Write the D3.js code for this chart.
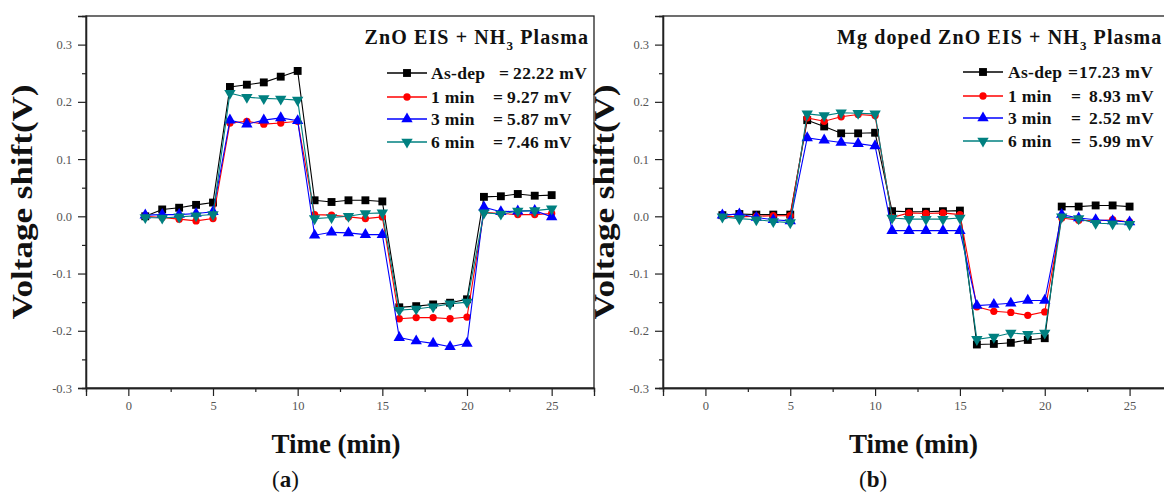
<!DOCTYPE html>
<html><head><meta charset="utf-8">
<script src="https://cdn.jsdelivr.net/npm/d3@7"></script>
<style>body{margin:0;background:#fff}svg{display:block}</style>
</head><body>
<svg id="c" width="1164" height="493"></svg>
<script>
// ---------- data ----------
const time = [1,2,3,4,5,6,7,8,9,10,11,12,13,14,15,16,17,18,19,20,21,22,23,24,25];

const aAsDep = [0.000,0.012,0.015,0.020,0.024,0.226,0.230,0.234,0.244,0.254,0.028,0.025,0.028,0.028,0.026,-0.159,-0.157,-0.154,-0.151,-0.145,0.034,0.035,0.039,0.036,0.037];
const a1min  = [0.000,-0.002,-0.005,-0.008,-0.004,0.163,0.166,0.161,0.163,0.166,0.003,0.002,-0.001,-0.004,-0.001,-0.179,-0.177,-0.177,-0.179,-0.176,0.007,0.005,0.003,0.003,0.005];
const a3min  = [0.002,0.003,0.003,0.005,0.008,0.168,0.161,0.168,0.172,0.167,-0.033,-0.028,-0.029,-0.032,-0.032,-0.212,-0.218,-0.222,-0.228,-0.222,0.016,0.008,0.009,0.010,-0.001];
const a6min  = [-0.002,-0.003,-0.001,0.001,0.003,0.215,0.208,0.206,0.205,0.203,-0.004,-0.002,0.000,0.005,0.006,-0.164,-0.162,-0.158,-0.153,-0.150,0.006,0.004,0.009,0.010,0.013];

const bAsDep = [0.002,0.004,0.003,0.003,0.003,0.168,0.157,0.145,0.145,0.146,0.009,0.008,0.008,0.009,0.010,-0.224,-0.223,-0.221,-0.216,-0.213,0.017,0.017,0.019,0.019,0.017];
const b1min  = [0.000,-0.001,0.000,0.001,0.001,0.172,0.166,0.174,0.178,0.176,-0.002,0.006,0.005,0.006,0.003,-0.158,-0.166,-0.168,-0.173,-0.167,-0.003,-0.007,-0.008,-0.006,-0.010];
const b3min  = [0.002,0.004,-0.002,-0.006,-0.008,0.137,0.133,0.129,0.127,0.123,-0.025,-0.025,-0.025,-0.025,-0.025,-0.156,-0.154,-0.152,-0.147,-0.147,0.003,-0.003,-0.006,-0.008,-0.010];
const b6min  = [-0.001,-0.004,-0.006,-0.009,-0.011,0.179,0.176,0.181,0.180,0.179,-0.003,-0.005,-0.005,-0.005,-0.003,-0.215,-0.211,-0.204,-0.206,-0.204,-0.001,-0.004,-0.012,-0.013,-0.014];

const seriesNames = ["As-dep","1 min","3 min","6 min"];
const aValueText = ["22.22 mV","9.27 mV","5.87 mV","7.46 mV"];
const bValueText = ["17.23 mV","8.93 mV","2.52 mV","5.99 mV"];
const colors = ["#000000","#ff0000","#0000ff","#008080"];
const symbols = ["square","circle","up","down"];

const xTicks = [0,5,10,15,20,25];
const xMinorTicks = [2.5,7.5,12.5,17.5,22.5];
const yTicks = [-0.3,-0.2,-0.1,0.0,0.1,0.2,0.3];
const yMinorTicks = [-0.25,-0.15,-0.05,0.05,0.15,0.25];
const xDomain = [-2.5,27.5];
const yDomain = [-0.3,0.35];

const yTitle = "Voltage shift(V)";
const xTitle = "Time (min)";

// ---------- drawing ----------
const FONT = "'Liberation Serif','Times New Roman',serif";
const svg = d3.select("#c");

function symPath(kind){
  if(kind==="square") return d3.symbol(d3.symbolSquare, 62)();
  if(kind==="circle") return d3.symbol(d3.symbolCircle, 42)();
  return d3.symbol(d3.symbolTriangle, 56)();
}

function drawPanel(cfg){
  const g = svg.append("g");
  const x = d3.scaleLinear().domain(xDomain).range([cfg.left, cfg.right]);
  const y = d3.scaleLinear().domain(yDomain).range([cfg.bottom, cfg.top]);

  // frame
  g.append("rect").attr("x",cfg.left).attr("y",cfg.top)
    .attr("width",cfg.right-cfg.left).attr("height",cfg.bottom-cfg.top)
    .attr("fill","none").attr("stroke","#222").attr("stroke-width",1.3);

  // axes
  const ax = g.append("g").attr("transform",`translate(0,${cfg.bottom})`)
    .call(d3.axisBottom(x).tickValues(xTicks).tickSize(8).tickPadding(5).tickFormat(d=>String(d)));
  const axm = g.append("g").attr("transform",`translate(0,${cfg.bottom})`)
    .call(d3.axisBottom(x).tickValues(xMinorTicks).tickSize(4).tickFormat(""));
  const ay = g.append("g").attr("transform",`translate(${cfg.left},0)`)
    .call(d3.axisLeft(y).tickValues(yTicks).tickSize(8).tickPadding(6).tickFormat(d=>d.toFixed(1)));
  const aym = g.append("g").attr("transform",`translate(${cfg.left},0)`)
    .call(d3.axisLeft(y).tickValues(yMinorTicks).tickSize(4).tickFormat(""));
  [ax,axm,ay,aym].forEach(a=>{
    a.select(".domain").attr("stroke","#222").attr("stroke-width",1.3);
    a.selectAll(".tick line").attr("stroke","#222").attr("stroke-width",1.2);
    a.selectAll(".tick text").attr("font-family",FONT).attr("font-size",12.5).attr("fill","#555");
  });

  // series
  const line = d3.line().x(d=>x(d.t)).y(d=>y(d.v));
  cfg.series.forEach((vals,i)=>{
    const pts = time.map((t,k)=>({t:t,v:vals[k]}));
    g.append("path").datum(pts).attr("d",line)
      .attr("fill","none").attr("stroke",colors[i]).attr("stroke-width",1.1);
    g.selectAll(null).data(pts).enter().append("path")
      .attr("d",symPath(symbols[i]))
      .attr("transform",d=>`translate(${x(d.t)},${y(d.v)})${symbols[i]==="down"?" rotate(180)":""}`)
      .attr("fill",colors[i]);
  });

  // title
  const tt = g.append("text").attr("x",cfg.titleX).attr("y",44)
    .attr("text-anchor",cfg.titleAnchor).attr("font-family",FONT)
    .attr("font-weight","bold").attr("font-size",20).attr("letter-spacing",1.1).attr("fill","#111");
  tt.append("tspan").text(cfg.titlePre);
  tt.append("tspan").attr("font-size",13).attr("dy",6).text("3");
  tt.append("tspan").attr("dy",-6).text(" Plasma");

  // legend
  seriesNames.forEach((name,i)=>{
    const ry = cfg.legRows[i];
    g.append("line").attr("x1",cfg.legX1).attr("x2",cfg.legX2).attr("y1",ry).attr("y2",ry)
      .attr("stroke",colors[i]).attr("stroke-width",1.3);
    g.append("path").attr("d",symPath(symbols[i]))
      .attr("transform",`translate(${(cfg.legX1+cfg.legX2)/2},${ry})${symbols[i]==="down"?" rotate(180)":""}`)
      .attr("fill",colors[i]);
    const common = s=>s.attr("font-family",FONT).attr("font-weight","bold").attr("font-size",17.5).attr("fill","#111").attr("y",ry+6);
    common(g.append("text").attr("x",cfg.nameX).attr("letter-spacing",0.3).text(name));
    common(g.append("text").attr("x",cfg.eqX[i]).text("="));
    common(g.append("text").attr("x",cfg.valX[i]).attr("letter-spacing",0.4).text(cfg.valueText[i]));
  });

  // axis titles
  g.append("text").attr("transform",`translate(${cfg.yTitleX},202) rotate(-90)`)
    .attr("text-anchor","middle").attr("font-family",FONT).attr("font-weight","bold")
    .attr("font-size",29).attr("fill","#111")
    .attr("textLength",235).attr("lengthAdjust","spacingAndGlyphs").text(yTitle);
  g.append("text").attr("x",(cfg.left+cfg.right)/2 - 4).attr("y",453)
    .attr("text-anchor","middle").attr("font-family",FONT).attr("font-weight","bold")
    .attr("font-size",27).attr("fill","#111").text(xTitle);

  // caption
  const cap = g.append("text").attr("x",cfg.capX).attr("y",487)
    .attr("font-family",FONT).attr("font-size",23).attr("fill","#111");
  cap.append("tspan").text("(");
  cap.append("tspan").attr("font-weight","bold").text(cfg.capLetter);
  cap.append("tspan").text(")");
}

drawPanel({
  left:86, right:594, top:16, bottom:388,
  series:[aAsDep,a1min,a3min,a6min], valueText:aValueText,
  titleX:589, titleAnchor:"end", titlePre:"ZnO EIS + NH",
  legX1:387, legX2:427, nameX:431,
  eqX:[499,493,493,493], valX:[513,507,507,507],
  legRows:[73,97,119,142],
  yTitleX:32, capX:272, capLetter:"a"
});
drawPanel({
  left:663, right:1172, top:16, bottom:388,
  series:[bAsDep,b1min,b3min,b6min], valueText:bValueText,
  titleX:837, titleAnchor:"start", titlePre:"Mg doped ZnO EIS + NH",
  legX1:963, legX2:1003, nameX:1008,
  eqX:[1068,1071,1071,1071], valX:[1079,1089,1089,1089],
  legRows:[72,96,118,141],
  yTitleX:614, capX:859, capLetter:"b"
});
</script>
</body></html>
